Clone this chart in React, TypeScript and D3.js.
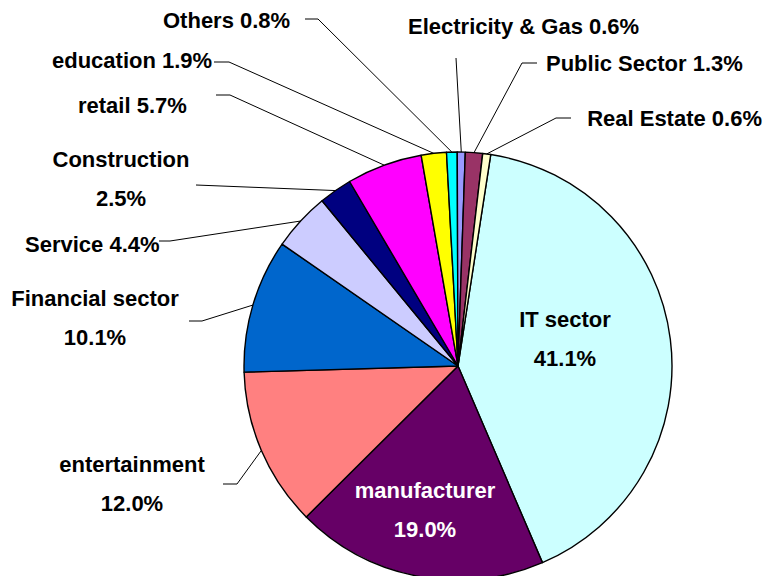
import React from "react";
import * as d3 from "d3";

const categories = [
  "IT sector",
  "manufacturer",
  "entertainment",
  "Financial sector",
  "Service",
  "Construction",
  "retail",
  "education",
  "Others",
  "Electricity & Gas",
  "Public Sector",
  "Real Estate",
];
const shares = [41.1, 19.0, 12.0, 10.1, 4.4, 2.5, 5.7, 1.9, 0.8, 0.6, 1.3, 0.6];
const sliceColors = [
  "#CCFFFF",
  "#660066",
  "#FF8080",
  "#0066CC",
  "#CCCCFF",
  "#000080",
  "#FF00FF",
  "#FFFF00",
  "#00FFFF",
  "#9999FF",
  "#993366",
  "#FFFFCC",
];

// label layout: lines drawn at (x, baseline), with anchor; leader from (lx,ly) -> (ex,ly) -> rim
type Layout = {
  x: number;
  y: number;
  anchor: "start" | "middle" | "end";
  twoLine: boolean;
  inside?: boolean;
  fill?: string;
  leader?: [number, number, number];
};
const layout: Layout[] = [
  { x: 565, y: 327, anchor: "middle", twoLine: true, inside: true },
  { x: 425, y: 498, anchor: "middle", twoLine: true, inside: true, fill: "#FFFFFF" },
  { x: 132, y: 472, anchor: "middle", twoLine: true, leader: [223, 237, 484] },
  { x: 95, y: 306, anchor: "middle", twoLine: true, leader: [189, 202, 321] },
  { x: 25, y: 252, anchor: "start", twoLine: false, leader: [159, 170, 241] },
  { x: 121, y: 167, anchor: "middle", twoLine: true, leader: [196, 196, 185] },
  { x: 78, y: 113, anchor: "start", twoLine: false, leader: [216, 230, 95] },
  { x: 52, y: 68, anchor: "start", twoLine: false, leader: [214, 229, 62] },
  { x: 163, y: 28, anchor: "start", twoLine: false, leader: [305, 318, 19] },
  { x: 408, y: 34, anchor: "start", twoLine: false, leader: [456, 456, 58] },
  { x: 546, y: 71, anchor: "start", twoLine: false, leader: [537, 522, 63] },
  { x: 762, y: 126, anchor: "end", twoLine: false, leader: [571, 556, 118] },
];

const W = 765;
const H = 576;
const cx = 458;
const cy = 366;
const R = 214;
const startDeg = 8.8;

export default function App() {
  const start = (startDeg * Math.PI) / 180;
  const pie = d3
    .pie<number>()
    .sort(null)
    .value((d) => d)
    .startAngle(start)
    .endAngle(start + 2 * Math.PI);
  const arcs = pie(shares);
  const arc = d3.arc<d3.PieArcDatum<number>>().innerRadius(0).outerRadius(R);
  const rimArc = d3.arc<d3.PieArcDatum<number>>().innerRadius(R).outerRadius(R);
  const font = "'Liberation Sans', Arial, Helvetica, sans-serif";

  return (
    <div style={{ position: "fixed", left: 0, top: 0 }}>
      <svg width={W} height={H} style={{ display: "block", background: "#fff" }}>
        <g transform={`translate(${cx},${cy})`}>
          {arcs.map((a, i) => (
            <path
              key={i}
              d={arc(a) || ""}
              fill={sliceColors[i]}
              stroke="#000"
              strokeWidth={1.4}
              strokeLinejoin="round"
            />
          ))}
        </g>
        {arcs.map((a, i) => {
          const L = layout[i];
          if (!L.leader) return null;
          const [rx, ry] = rimArc.centroid(a);
          const [lx, ex, ly] = L.leader;
          return (
            <polyline
              key={"l" + i}
              points={`${lx},${ly} ${ex},${ly} ${cx + rx},${cy + ry}`}
              fill="none"
              stroke="#000"
              strokeWidth={1}
            />
          );
        })}
        {arcs.map((a, i) => {
          const L = layout[i];
          const pct = shares[i].toFixed(1) + "%";
          const common = {
            fontFamily: font,
            fontWeight: 700,
            fontSize: 22,
            fill: L.fill || "#000",
            textAnchor: L.anchor,
          } as const;
          if (L.twoLine) {
            return (
              <g key={"t" + i}>
                <text x={L.x} y={L.y} {...common}>
                  {categories[i]}
                </text>
                <text x={L.x} y={L.y + 39} {...common}>
                  {pct}
                </text>
              </g>
            );
          }
          return (
            <text key={"t" + i} x={L.x} y={L.y} {...common}>
              {categories[i] + " " + pct}
            </text>
          );
        })}
      </svg>
    </div>
  );
}
